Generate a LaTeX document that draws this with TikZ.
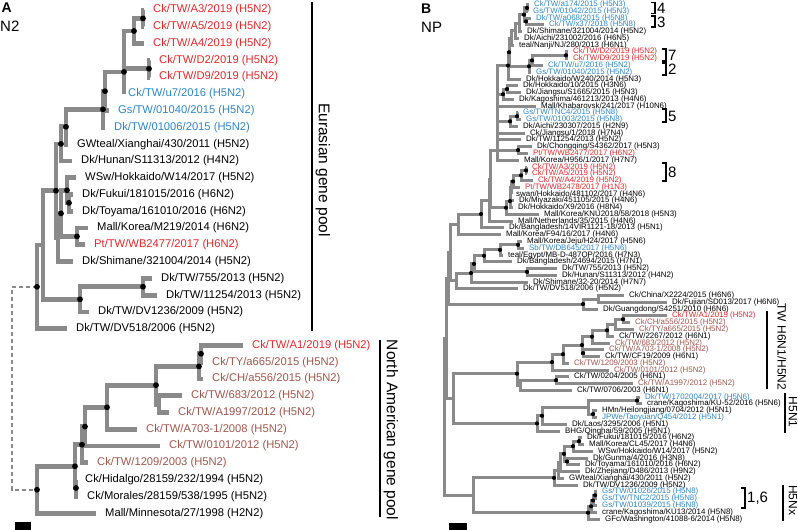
\documentclass[tikz,border=0pt]{standalone}
\usepackage{fontspec}
\setmainfont{Liberation Sans}
\definecolor{brgray}{RGB}{138,138,138}
\definecolor{labred}{RGB}{232,38,42}
\definecolor{labblue}{RGB}{46,134,200}
\definecolor{labbrown}{RGB}{162,86,76}
\begin{document}
\begin{tikzpicture}[x=1pt,y=-1pt,
  lfa/.style={anchor=west,inner xsep=9pt,inner ysep=0pt,font=\fontsize{11.2}{12}\selectfont},
  lfb/.style={anchor=west,inner xsep=5pt,inner ysep=0pt,font=\fontsize{7.9}{8}\selectfont},
  bra/.style={draw=brgray,line width=4.8pt},
  brb/.style={draw=brgray,line width=3pt},
  dsh/.style={draw=brgray,line width=1.7pt,dash pattern=on 4pt off 3pt},
  bar/.style={draw=black,line width=1.6pt},
  brk/.style={draw=black,line width=1.1pt},
  grp/.style={font=\fontsize{15.5}{16}\selectfont,inner sep=0pt},
  grpb/.style={font=\fontsize{12}{13}\selectfont,inner sep=0pt},
  num/.style={font=\fontsize{15}{16}\selectfont,inner sep=0pt,anchor=west}]
\useasboundingbox (0,0) rectangle (798,530);
\node[anchor=west,inner sep=0pt,font=\bfseries\fontsize{14}{15}\selectfont] (pa) at (1.5,8) {A};
\node[anchor=west,inner sep=0pt,font=\fontsize{15}{16}\selectfont] (pn2) at (0,26) {N2};
\node[anchor=west,inner sep=0pt,font=\bfseries\fontsize{14}{15}\selectfont] (pb) at (421,8.5) {B};
\node[anchor=west,inner sep=0pt,font=\fontsize{15}{16}\selectfont] (pnp) at (421,27) {NP};
% panel A leaves
\node[lfa,text=labred] (a1) at (144,10) {Ck/TW/A3/2019 (H5N2)};
\node[lfa,text=labred] (a2) at (144,26.8) {Ck/TW/A5/2019 (H5N2)};
\node[lfa,text=labred] (a3) at (144,43.5) {Ck/TW/A4/2019 (H5N2)};
\node[lfa,text=labred] (a4) at (150,60.3) {Ck/TW/D2/2019 (H5N2)};
\node[lfa,text=labred] (a5) at (150,77.1) {Ck/TW/D9/2019 (H5N2)};
\node[lfa,text=labblue,inner xsep=4pt] (a6) at (124,93.9) {Ck/TW/u7/2016 (H5N2)};
\node[lfa,text=labblue] (a7) at (109,110.6) {Gs/TW/01040/2015 (H5N2)};
\node[lfa,text=labblue] (a8) at (105,127.4) {Dk/TW/01006/2015 (H5N2)};
\node[lfa] (a9) at (68,144.2) {GWteal/Xianghai/430/2011 (H5N2)};
\node[lfa] (a10) at (72,160.9) {Dk/Hunan/S11313/2012 (H4N2)};
\node[lfa] (a11) at (76,177.7) {WSw/Hokkaido/W14/2017 (H5N2)};
\node[lfa] (a12) at (73,194.5) {Dk/Fukui/181015/2016 (H6N2)};
\node[lfa] (a13) at (73,211.2) {Dk/Toyama/161010/2016 (H6N2)};
\node[lfa] (a14) at (88,228) {Mall/Korea/M219/2014 (H6N2)};
\node[lfa,text=labred] (a15) at (85,244.8) {Pt/TW/WB2477/2017 (H6N2)};
\node[lfa] (a16) at (73,261.6) {Dk/Shimane/321004/2014 (H5N2)};
\node[lfa] (a17) at (152,278.3) {Dk/TW/755/2013 (H5N2)};
\node[lfa] (a18) at (157,295.1) {Dk/TW/11254/2013 (H5N2)};
\node[lfa] (a19) at (89,311.9) {Dk/TW/DV1236/2009 (H5N2)};
\node[lfa] (a20) at (67,328.6) {Dk/TW/DV518/2006 (H5N2)};
\node[lfa,text=labred] (a21) at (243,345.4) {Ck/TW/A1/2019 (H5N2)};
\node[lfa,text=labbrown] (a22) at (203,362.2) {Ck/TY/a665/2015 (H5N2)};
\node[lfa,text=labbrown] (a23) at (203,378.9) {Ck/CH/a556/2015 (H5N2)};
\node[lfa,text=labbrown] (a24) at (182,395.7) {Ck/TW/683/2012 (H5N2)};
\node[lfa,text=labbrown] (a25) at (169,412.5) {Ck/TW/A1997/2012 (H5N2)};
\node[lfa,text=labbrown] (a26) at (137,429.3) {Ck/TW/A703-1/2008 (H5N2)};
\node[lfa,text=labbrown] (a27) at (160,446) {Ck/TW/0101/2012 (H5N2)};
\node[lfa,text=labbrown] (a28) at (88,462.8) {Ck/TW/1209/2003 (H5N2)};
\node[lfa] (a29) at (76,479.6) {Ck/Hidalgo/28159/232/1994 (H5N2)};
\node[lfa] (a30) at (78,496.3) {Ck/Morales/28159/538/1995 (H5N2)};
\node[lfa] (a31) at (96,513.1) {Mall/Minnesota/27/1998 (H2N2)};
% panel A inner nodes
\coordinate (nA35) at (143,18.4);
\coordinate (nA345) at (134,31);
\coordinate (nD) at (149,68.7);
\coordinate (nAD) at (124,49.8);
\coordinate (nB) at (124,71.9);
\coordinate (nC2) at (105,91.2);
\coordinate (nC3) at (103,109.3);
\coordinate (nD1) at (66,126.8);
\coordinate (nD2) at (61,143.9);
\coordinate (nE1) at (69,202.9);
\coordinate (nE2) at (67,190.3);
\coordinate (nF) at (77,236.4);
\coordinate (nG) at (61,213.4);
\coordinate (nX) at (58,237.5);
\coordinate (nH) at (56,190.7);
\coordinate (n755) at (143,286.7);
\coordinate (nDV) at (80,299.3);
\coordinate (nI) at (43,245);
\coordinate (nJ) at (37,286.8);
\coordinate (nK1) at (201,353.8);
\coordinate (nK2) at (199,366.4);
\coordinate (nM) at (159,404.1);
\coordinate (nL) at (156,385.2);
\coordinate (nN) at (107,407.3);
\coordinate (nO) at (85,426.6);
\coordinate (nP) at (82,444.7);
\coordinate (nR) at (76,488);
\coordinate (nQ) at (75,466.3);
\coordinate (nS) at (37,489.7);
\coordinate (rA) at (12,388);
\draw[dsh] (nJ) -| (rA) |- (nS);
\draw[bra] (nA35) |- (a1.west) (nA35) |- (a2.west);
\draw[bra] (nA345) |- (nA35) (nA345) |- (a3.west);
\draw[bra] (nD) |- (a4.west) (nD) |- (a5.west);
\draw[bra] (nAD) |- (nA345) (nAD) |- (nD);
\draw[bra] (nB) |- (nAD) (nB) |- (a6.west);
\draw[bra] (nC2) |- (nB) (nC2) |- (a7.west);
\draw[bra] (nC3) |- (nC2) (nC3) |- (a8.west);
\draw[bra] (nD1) |- (nC3) (nD1) |- (a9.west);
\draw[bra] (nD2) |- (nD1) (nD2) |- (a10.west);
\draw[bra] (nE1) |- (a12.west) (nE1) |- (a13.west);
\draw[bra] (nE2) |- (a11.west) (nE2) |- (nE1);
\draw[bra] (nF) |- (a14.west) (nF) |- (a15.west);
\draw[bra] (nG) |- (nE2) (nG) |- (nF);
\draw[bra] (nX) |- (nG) (nX) |- (a16.west);
\draw[bra] (nH) |- (nD2) (nH) |- (nX);
\draw[bra] (n755) |- (a17.west) (n755) |- (a18.west);
\draw[bra] (nDV) |- (n755) (nDV) |- (a19.west);
\draw[bra] (nI) |- (nH) (nI) |- (nDV);
\draw[bra] (nJ) |- (nI) (nJ) |- (a20.west);
\draw[bra] (nK1) |- (a21.west) (nK1) |- (a22.west);
\draw[bra] (nK2) |- (nK1) (nK2) |- (a23.west);
\draw[bra] (nM) |- (a24.west) (nM) |- (a25.west);
\draw[bra] (nL) |- (nK2) (nL) |- (nM);
\draw[bra] (nN) |- (nL) (nN) |- (a26.west);
\draw[bra] (nO) |- (nN) (nO) |- (a27.west);
\draw[bra] (nP) |- (nO) (nP) |- (a28.west);
\draw[bra] (nR) |- (a29.west) (nR) |- (a30.west);
\draw[bra] (nQ) |- (nP) (nQ) |- (nR);
\draw[bra] (nS) |- (nQ) (nS) |- (a31.west);
\fill (nA35) circle (2.9pt) (nA345) circle (2.9pt) (nD) circle (2.9pt) (nB) circle (2.9pt)
  (nC2) circle (2.9pt) (nC3) circle (2.9pt) (nD1) circle (2.9pt) (nD2) circle (2.9pt)
  (nE1) circle (2.9pt) (nE2) circle (2.9pt) (nF) circle (2.9pt) (nG) circle (2.9pt)
  (nH) circle (2.9pt) (n755) circle (2.9pt) (nDV) circle (2.9pt) (nJ) circle (2.9pt)
  (nK1) circle (2.9pt) (nK2) circle (2.9pt) (nL) circle (2.9pt) (nN) circle (2.9pt)
  (nO) circle (2.9pt) (nP) circle (2.9pt) (nR) circle (2.9pt) (nQ) circle (2.9pt) (nS) circle (2.9pt);
\fill (15,522) rectangle (31,530);
\draw[bar] (312,2) -- (312,331);
\node[grp,rotate=-90] (eur) at (323,170) {Eurasian gene pool};
\draw[bar] (380,340) -- (380,517);
\node[grp,rotate=-90] (nam) at (391,430) {North American gene pool};
% panel B leaves
\node[lfb,text=labblue] (b1) at (529,4.5) {Ck/TW/a174/2015 (H5N3)};
\node[lfb,text=labblue] (b2) at (528,11.3) {Gs/TW/01042/2015 (H5N3)};
\node[lfb,text=labblue] (b3) at (531,18) {Dk/TW/a068/2015 (H5N8)};
\node[lfb,text=labblue] (b4) at (544,24.8) {Ck/TW/x37/2018 (H5N8)};
\node[lfb] (b5) at (522,31.6) {Dk/Shimane/321004/2014 (H5N2)};
\node[lfb] (b6) at (519,38.4) {Dk/Aichi/231002/2016 (H6N5)};
\node[lfb] (b7) at (514,45.1) {teal/Nanji/NJ/280/2013 (H6N1)};
\node[lfb,text=labred] (b8) at (568,51.9) {Ck/TW/D2/2019 (H5N2)};
\node[lfb,text=labred] (b9) at (568,58.7) {Ck/TW/D9/2019 (H5N2)};
\node[lfb,text=labblue] (b10) at (543,65.4) {Ck/TW/u7/2016 (H5N2)};
\node[lfb,text=labblue] (b11) at (531,72.2) {Gs/TW/01040/2015 (H5N2)};
\node[lfb] (b12) at (521,79) {Dk/Hokkaido/W240/2014 (H5N3)};
\node[lfb] (b13) at (518,85.7) {Dk/Hokkaido/10/2015 (H3N6)};
\node[lfb] (b14) at (521,92.5) {Dk/Jiangsu/S1665/2015 (H5N3)};
\node[lfb] (b15) at (514,99.3) {Dk/Kagoshima/461213/2013 (H4N6)};
\node[lfb] (b16) at (536,106.1) {Mall/Khabarovsk/241/2017 (H10N6)};
\node[lfb,text=labblue] (b17) at (518,112.8) {Gs/TW/TNC4/2015 (H5N8)};
\node[lfb,text=labblue] (b18) at (521,119.6) {Gs/TW/01003/2015 (H5N8)};
\node[lfb] (b19) at (518,126.4) {Dk/Aichi/230307/2015 (H2N9)};
\node[lfb] (b20) at (525,133.1) {Ck/Jiangsu/1/2018 (H7N4)};
\node[lfb] (b21) at (521,139.9) {Dk/TW/11254/2013 (H5N2)};
\node[lfb] (b22) at (532,146.7) {Dk/Chongqing/S4362/2017 (H5N3)};
\node[lfb,text=labred] (b23) at (528,153.4) {Pt/TW/WB2477/2017 (H6N2)};
\node[lfb] (b24) at (519,160.2) {Mall/Korea/H956/1/2017 (H7N7)};
\node[lfb,text=labred] (b25) at (527,167) {Ck/TW/A3/2019 (H5N2)};
\node[lfb,text=labred] (b26) at (527,173.8) {Ck/TW/A5/2019 (H5N2)};
\node[lfb,text=labred] (b27) at (533,180.5) {Ck/TW/A4/2019 (H5N2)};
\node[lfb,text=labred] (b28) at (520,187.3) {Pt/TW/WB2478/2017 (H1N3)};
\node[lfb] (b29) at (511,194.1) {swan/Hokkaido/481102/2017 (H4N6)};
\node[lfb] (b30) at (514,200.8) {Dk/Miyazaki/451105/2015 (H4N6)};
\node[lfb] (b31) at (513,207.6) {Dk/Hokkaido/X9/2016 (H8N4)};
\node[lfb] (b32) at (539,214.4) {Mall/Korea/KNU2018/58/2018 (H5N3)};
\node[lfb] (b33) at (513,221.1) {Mall/Netherlands/35/2015 (H4N6)};
\node[lfb] (b34) at (504,227.9) {Dk/Bangladesh/14VIR1121-18/2013 (H5N1)};
\node[lfb] (b35) at (501,234.7) {Mall/Korea/F94/16/2017 (H4N6)};
\node[lfb] (b36) at (522,241.5) {Mall/Korea/Jeju/H24/2017 (H5N6)};
\node[lfb,text=labblue] (b37) at (524,248.2) {Sb/TW/DB645/2017 (H5N6)};
\node[lfb] (b38) at (503,255) {teal/Egypt/MB-D-487OP/2016 (H7N3)};
\node[lfb] (b39) at (512,261.8) {Dk/Bangladesh/24694/2015 (H7N1)};
\node[lfb] (b40) at (557,268.5) {Dk/TW/755/2013 (H5N2)};
\node[lfb] (b41) at (557,275.3) {Dk/Hunan/S11313/2012 (H4N2)};
\node[lfb] (b42) at (528,282.1) {Dk/Shimane/32-20/2014 (H7N7)};
\node[lfb] (b43) at (518,288.8) {Dk/TW/DV518/2006 (H5N2)};
\node[lfb] (b44) at (624,295.6) {Ck/China/X2224/2015 (H6N6)};
\node[lfb] (b45) at (667,302.4) {Dk/Fujian/SD013/2017 (H6N6)};
\node[lfb] (b46) at (598,309.2) {Dk/Guangdong/S4251/2010 (H6N6)};
\node[lfb,text=labred] (b47) at (667,315.9) {Ck/TW/A1/2019 (H5N2)};
\node[lfb,text=labbrown] (b48) at (630,322.7) {Ck/CH/a556/2015 (H5N2)};
\node[lfb,text=labbrown] (b49) at (634,329.5) {Ck/TY/a665/2015 (H5N2)};
\node[lfb] (b50) at (614,336.2) {Ck/TW/2267/2012 (H6N1)};
\node[lfb,text=labbrown] (b51) at (610,343) {Ck/TW/683/2012 (H5N2)};
\node[lfb,text=labbrown] (b52) at (604,349.8) {Ck/TW/A703-1/2008 (H5N2)};
\node[lfb] (b53) at (600,356.5) {Ck/TW/CF19/2009 (H6N1)};
\node[lfb,text=labbrown] (b54) at (569,363.3) {Ck/TW/1209/2003 (H5N2)};
\node[lfb,text=labbrown] (b55) at (609,370.1) {Ck/TW/0101/2012 (H5N2)};
\node[lfb] (b56) at (569,376.9) {Ck/TW/0204/2005 (H6N1)};
\node[lfb,text=labbrown] (b57) at (633,383.6) {Ck/TW/A1997/2012 (H5N2)};
\node[lfb] (b58) at (572,390.4) {Ck/TW/0706/2003 (H6N1)};
\node[lfb,text=labblue] (b59) at (640,397.2) {Dk/TW/1702004/2017 (H5N6)};
\node[lfb] (b60) at (642,403.9) {crane/Kagoshima/KU-52/2016 (H5N6)};
\node[lfb] (b61) at (597,410.7) {HMn/Heilongjiang/0704/2012 (H5N1)};
\node[lfb,text=labblue] (b62) at (597,417.5) {JPWe/Taoyuan/Q454/2012 (H5N1)};
\node[lfb] (b63) at (567,424.2) {Dk/Laos/3295/2006 (H5N1)};
\node[lfb] (b64) at (560,431) {BHG/Qinghai/59/2005 (H5N1)};
\node[lfb] (b65) at (582,437.8) {Dk/Fukui/181015/2016 (H6N2)};
\node[lfb] (b66) at (584,444.6) {Mall/Korea/CL45/2017 (H4N6)};
\node[lfb] (b67) at (593,451.3) {WSw/Hokkaido/W14/2017 (H5N2)};
\node[lfb] (b68) at (588,458.1) {Dk/Gunma/4/2016 (H3N8)};
\node[lfb] (b69) at (580,464.9) {Dk/Toyama/161010/2016 (H6N2)};
\node[lfb] (b70) at (580,471.6) {Dk/Zhejiang/D486/2013 (H9N2)};
\node[lfb] (b71) at (564,478.4) {GWteal/Xianghai/430/2011 (H5N2)};
\node[lfb] (b72) at (578,485.2) {Dk/TW/DV1236/2009 (H5N2)};
\node[lfb,text=labblue] (b73) at (597,491.9) {Gs/TW/01026/2015 (H5N8)};
\node[lfb,text=labblue] (b74) at (597,498.7) {Gs/TW/TNC2/2015 (H5N8)};
\node[lfb,text=labblue] (b75) at (597,505.5) {Gs/TW/01039/2015 (H5N8)};
\node[lfb] (b76) at (597,512.3) {crane/Kagoshima/KU13/2014 (H5N8)};
\node[lfb] (b77) at (600,519) {GFc/Washington/41088-6/2014 (H5N8)};
% panel B inner nodes
\coordinate (C1) at (527,7.9);
\coordinate (C2) at (526,21.4);
\coordinate (C14) at (524,14.7);
\coordinate (P1) at (519,23.1);
\coordinate (P2) at (515,30.8);
\coordinate (P3) at (511,38);
\coordinate (Q1) at (566,55.3);
\coordinate (Q3) at (532,60.4);
\coordinate (Q4) at (529,66.3);
\coordinate (S1) at (509,52.2);
\coordinate (S2) at (508,65.6);
\coordinate (T1) at (507,89.1);
\coordinate (T2) at (503,94.2);
\coordinate (U1) at (517,116.2);
\coordinate (U2) at (510,121.3);
\coordinate (V1) at (518,150.1);
\coordinate (cm1) at (497,79.9);
\coordinate (cm2) at (497,93);
\coordinate (cm3) at (497,107.2);
\coordinate (cm4) at (497,120.1);
\coordinate (cm5) at (497,130);
\coordinate (cm6) at (497,140.1);
\coordinate (cm7) at (497,150.2);
\coordinate (W1) at (526,170.4);
\coordinate (W2) at (521,175.4);
\coordinate (W3) at (513,181.4);
\coordinate (W4) at (511,187.7);
\coordinate (W5) at (510,194.3);
\coordinate (W6) at (510,201);
\coordinate (W7) at (506,207.7);
\coordinate (Z1) at (490,179);
\coordinate (Z2) at (489,200.1);
\coordinate (Y1) at (481,214);
\coordinate (Y2) at (458,224.4);
\coordinate (M1) at (518,244.8);
\coordinate (M2) at (500,249.9);
\coordinate (M3) at (484,255.8);
\coordinate (M4) at (527,271.9);
\coordinate (M5) at (474,263.9);
\coordinate (M6) at (471,273);
\coordinate (M7) at (456,280.9);
\coordinate (J1) at (450,252.7);
\coordinate (L1) at (598,299);
\coordinate (L2) at (583,304.1);
\coordinate (J2) at (448,278.4);
\coordinate (K1) at (623,319.3);
\coordinate (K2) at (615,324.4);
\coordinate (K3) at (607,330.3);
\coordinate (K4) at (592,336.7);
\coordinate (K5) at (583,353.2);
\coordinate (K6) at (582,345);
\coordinate (K7) at (563,354.2);
\coordinate (K8) at (552,362.1);
\coordinate (K9) at (556,380.2);
\coordinate (K10) at (520,385.3);
\coordinate (K11) at (517,373.7);
\coordinate (N1) at (637,400.5);
\coordinate (N2) at (593,414.1);
\coordinate (N3) at (588,407.3);
\coordinate (N4) at (542,415.8);
\coordinate (N5) at (537,423.4);
\coordinate (KN) at (453,398.6);
\coordinate (J3) at (446,338.5);
\coordinate (H1) at (579,441.2);
\coordinate (H2) at (573,446.2);
\coordinate (H3) at (567,461.5);
\coordinate (H4) at (564,453.9);
\coordinate (H5) at (560,462.7);
\coordinate (H6) at (558,470.6);
\coordinate (H7) at (554,477.9);
\coordinate (G1) at (595,495.3);
\coordinate (G2) at (593,500.4);
\coordinate (G3) at (591,506.3);
\coordinate (G4) at (588,512.7);
\coordinate (HX) at (473,495.3);
\coordinate (rB) at (444,416.9);
\draw[brb] (C1) |- (b1.west) (C1) |- (b2.west);
\draw[brb] (C2) |- (b3.west) (C2) |- (b4.west);
\draw[brb] (C14) |- (C1) (C14) |- (C2);
\draw[brb] (P1) |- (C14) (P1) |- (b5.west);
\draw[brb] (P2) |- (P1) (P2) |- (b6.west);
\draw[brb] (P3) |- (P2) (P3) |- (b7.west);
\draw[brb] (Q1) |- (b8.west) (Q1) |- (b9.west);
\draw[brb] (Q3) |- (Q1) (Q3) |- (b10.west);
\draw[brb] (Q4) |- (Q3) (Q4) |- (b11.west);
\draw[brb] (S1) |- (P3) (S1) |- (Q4);
\draw[brb] (S2) |- (S1) (S2) |- (b12.west);
\draw[brb] (T1) |- (b13.west) (T1) |- (b14.west);
\draw[brb] (T2) |- (T1) (T2) |- (b15.west);
\draw[brb] (U1) |- (b17.west) (U1) |- (b18.west);
\draw[brb] (U2) |- (U1) (U2) |- (b19.west);
\draw[brb] (V1) |- (b22.west) (V1) |- (b23.west);
\draw[brb] (cm1) |- (S2) (cm1) |- (T2);
\draw[brb] (cm2) |- (cm1) (cm2) |- (b16.west);
\draw[brb] (cm3) |- (cm2) (cm3) |- (U2);
\draw[brb] (cm4) |- (cm3) (cm4) |- (b20.west);
\draw[brb] (cm5) |- (cm4) (cm5) |- (b21.west);
\draw[brb] (cm6) |- (cm5) (cm6) |- (V1);
\draw[brb] (cm7) |- (cm6) (cm7) |- (b24.west);
\draw[brb] (W1) |- (b25.west) (W1) |- (b26.west);
\draw[brb] (W2) |- (W1) (W2) |- (b27.west);
\draw[brb] (W3) |- (W2) (W3) |- (b28.west);
\draw[brb] (W4) |- (W3) (W4) |- (b29.west);
\draw[brb] (W5) |- (W4) (W5) |- (b30.west);
\draw[brb] (W6) |- (W5) (W6) |- (b31.west);
\draw[brb] (W7) |- (W6) (W7) |- (b32.west);
\draw[brb] (Z1) |- (cm7) (Z1) |- (W7);
\draw[brb] (Z2) |- (Z1) (Z2) |- (b33.west);
\draw[brb] (Y1) |- (Z2) (Y1) |- (b34.west);
\draw[brb] (Y2) |- (Y1) (Y2) |- (b35.west);
\draw[brb] (M1) |- (b36.west) (M1) |- (b37.west);
\draw[brb] (M2) |- (M1) (M2) |- (b38.west);
\draw[brb] (M3) |- (M2) (M3) |- (b39.west);
\draw[brb] (M4) |- (b40.west) (M4) |- (b41.west);
\draw[brb] (M5) |- (M3) (M5) |- (M4);
\draw[brb] (M6) |- (M5) (M6) |- (b42.west);
\draw[brb] (M7) |- (M6) (M7) |- (b43.west);
\draw[brb] (J1) |- (Y2) (J1) |- (M7);
\draw[brb] (L1) |- (b44.west) (L1) |- (b45.west);
\draw[brb] (L2) |- (L1) (L2) |- (b46.west);
\draw[brb] (J2) |- (J1) (J2) |- (L2);
\draw[brb] (K1) |- (b47.west) (K1) |- (b48.west);
\draw[brb] (K2) |- (K1) (K2) |- (b49.west);
\draw[brb] (K3) |- (K2) (K3) |- (b50.west);
\draw[brb] (K4) |- (K3) (K4) |- (b51.west);
\draw[brb] (K5) |- (b52.west) (K5) |- (b53.west);
\draw[brb] (K6) |- (K4) (K6) |- (K5);
\draw[brb] (K7) |- (K6) (K7) |- (b54.west);
\draw[brb] (K8) |- (K7) (K8) |- (b55.west);
\draw[brb] (K9) |- (b56.west) (K9) |- (b57.west);
\draw[brb] (K10) |- (K9) (K10) |- (b58.west);
\draw[brb] (K11) |- (K8) (K11) |- (K10);
\draw[brb] (N1) |- (b59.west) (N1) |- (b60.west);
\draw[brb] (N2) |- (b61.west) (N2) |- (b62.west);
\draw[brb] (N3) |- (N1) (N3) |- (N2);
\draw[brb] (N4) |- (N3) (N4) |- (b63.west);
\draw[brb] (N5) |- (N4) (N5) |- (b64.west);
\draw[brb] (KN) |- (K11) (KN) |- (N5);
\draw[brb] (J3) |- (J2) (J3) |- (KN);
\draw[brb] (H1) |- (b65.west) (H1) |- (b66.west);
\draw[brb] (H2) |- (H1) (H2) |- (b67.west);
\draw[brb] (H3) |- (b68.west) (H3) |- (b69.west);
\draw[brb] (H4) |- (H2) (H4) |- (H3);
\draw[brb] (H5) |- (H4) (H5) |- (b70.west);
\draw[brb] (H6) |- (H5) (H6) |- (b71.west);
\draw[brb] (H7) |- (H6) (H7) |- (b72.west);
\draw[brb] (G1) |- (b73.west) (G1) |- (b74.west);
\draw[brb] (G2) |- (G1) (G2) |- (b75.west);
\draw[brb] (G3) |- (G2) (G3) |- (b76.west);
\draw[brb] (G4) |- (G3) (G4) |- (b77.west);
\draw[brb] (HX) |- (H7) (HX) |- (G4);
\draw[brb] (rB) |- (J3) (rB) |- (HX);
\fill (C1) circle (2.1pt) (C2) circle (2.1pt) (C14) circle (2.1pt) (Q1) circle (2.1pt) (Q3) circle (2.1pt)
  (Q4) circle (2.1pt) (S1) circle (2.1pt) (S2) circle (2.1pt) (T1) circle (2.1pt) (T2) circle (2.1pt)
  (U1) circle (2.1pt) (U2) circle (2.1pt) (V1) circle (2.1pt) (W1) circle (2.1pt) (W2) circle (2.1pt)
  (W3) circle (2.1pt) (W6) circle (2.1pt) (W7) circle (2.1pt) (Y1) circle (2.1pt) (M1) circle (2.1pt)
  (M2) circle (2.1pt) (M3) circle (2.1pt) (M4) circle (2.1pt) (M5) circle (2.1pt) (M6) circle (2.1pt)
  (L2) circle (2.1pt) (K1) circle (2.1pt) (K3) circle (2.1pt) (K4) circle (2.1pt) (K5) circle (2.1pt)
  (K6) circle (2.1pt) (K7) circle (2.1pt) (K8) circle (2.1pt) (K9) circle (2.1pt) (K11) circle (2.1pt)
  (N1) circle (2.1pt) (N2) circle (2.1pt) (N4) circle (2.1pt) (N5) circle (2.1pt) (H1) circle (2.1pt)
  (H2) circle (2.1pt) (H3) circle (2.1pt) (H4) circle (2.1pt) (H7) circle (2.1pt) (G1) circle (2.1pt)
  (G2) circle (2.1pt) (G3) circle (2.1pt) (G4) circle (2.1pt);
\fill (449,523) rectangle (467,530);
% brackets
\draw[brk] (651,2.5) -| (655,13.5) -- (651,13.5);
\node[num] (s4) at (657,8) {4};
\draw[brk] (651,16) -| (655,27) -- (651,27);
\node[num] (s3) at (657,22) {3};
\draw[brk] (662,49) -| (666,61) -- (662,61);
\node[num] (s7) at (668,55) {7};
\draw[brk] (662,63) -| (666,75) -- (662,75);
\node[num] (s2) at (668,69) {2};
\draw[brk] (662,109) -| (666,122) -- (662,122);
\node[num] (s5) at (668,116) {5};
\draw[brk] (662,163) -| (666,181) -- (662,181);
\node[num] (s8) at (668,172) {8};
\draw[brk] (741,488) -| (745,508) -- (741,508);
\node[num] (s16) at (747,498) {1,6};
\draw[bar] (767,311) -- (767,389);
\node[grpb,rotate=-90] (twh) at (782,347) {TW H6N1/H5N2};
\draw[bar] (785,393) -- (785,433);
\node[grpb,rotate=-90] (h5n1) at (793,412) {H5N1};
\draw[bar] (783,485) -- (783,521);
\node[grpb,rotate=-90] (h5nx) at (793,500) {H5Nx};
\end{tikzpicture}
\end{document}
